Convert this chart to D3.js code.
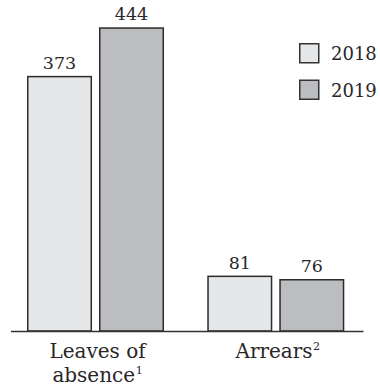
<!DOCTYPE html>
<html>
<head>
<meta charset="utf-8">
<script src="https://cdn.jsdelivr.net/npm/d3@7"></script>
<style>
  html, body { margin: 0; padding: 0; background: #fff; }
  svg { display: block; }
  text { font-family: "DejaVu Serif", serif; fill: #2a2627; }
</style>
</head>
<body>
<svg id="chart" width="380" height="389"></svg>
<script>
// Data
const categories = ["Leaves of absence", "Arrears"];
const categoryLines = [["Leaves of", "absence"], ["Arrears"]];
const footnotes = ["1", "2"];
const years = ["2018", "2019"];
const values2018 = [373, 81];
const values2019 = [444, 76];
const colors = ["#e6e7e8", "#bcbdc0"];

const svg = d3.select("#chart");
const baseY = 331;

const y = d3.scaleLinear().domain([0, 444]).range([baseY, 27.3]);
const x0 = d3.scaleBand().domain(categories).range([27, 344.3]).paddingInner(0.24).paddingOuter(0);
const x1 = d3.scaleBand().domain(years).range([0, x0.bandwidth()]).paddingInner(0.097).paddingOuter(0);
const color = d3.scaleOrdinal().domain(years).range(colors);

const rows = categories.map((c, i) => ({
  category: c,
  bars: [
    { year: years[0], value: values2018[i] },
    { year: years[1], value: values2019[i] }
  ]
}));

const groups = svg.selectAll("g.group")
  .data(rows)
  .join("g")
  .attr("class", "group")
  .attr("transform", d => `translate(${x0(d.category)},0)`);

const sw = 1.5;
groups.selectAll("rect")
  .data(d => d.bars)
  .join("rect")
  .attr("x", d => x1(d.year) + sw / 2)
  .attr("y", d => y(d.value) + sw / 2)
  .attr("width", x1.bandwidth() - sw)
  .attr("height", d => baseY - y(d.value) - sw / 2)
  .attr("fill", d => color(d.year))
  .attr("stroke", "#2b2b2b")
  .attr("stroke-width", sw);

// Value labels
groups.selectAll("text.value")
  .data(d => d.bars)
  .join("text")
  .attr("class", "value")
  .attr("x", d => x1(d.year) + x1.bandwidth() / 2)
  .attr("y", d => y(d.value) - 7)
  .attr("text-anchor", "middle")
  .attr("font-size", 17.5)
  .text(d => d.value);

// Baseline
svg.append("line")
  .attr("x1", 11).attr("x2", 363.5)
  .attr("y1", baseY + 0.5).attr("y2", baseY + 0.5)
  .attr("stroke", "#333")
  .attr("stroke-width", 1.5);

// Category labels with footnote markers
rows.forEach((d, i) => {
  const cx = x0(d.category) + x0.bandwidth() / 2 + 2;
  const lines = categoryLines[i];
  const t = svg.append("text")
    .attr("text-anchor", "middle")
    .attr("font-size", 20);
  lines.forEach((ln, j) => {
    t.append("tspan")
      .attr("x", cx)
      .attr("y", 358 + j * 23.5)
      .text(ln);
  });
  t.append("tspan")
    .attr("font-size", 11)
    .attr("dy", -8)
    .attr("dx", 0.5)
    .text(footnotes[i]);
});

// Legend
const legend = svg.append("g").attr("transform", "translate(299,43)");
years.forEach((yr, i) => {
  const g = legend.append("g").attr("transform", `translate(0,${i * 36.5})`);
  g.append("rect")
    .attr("x", 0.75).attr("y", 0.75)
    .attr("width", 19).attr("height", 19)
    .attr("fill", color(yr))
    .attr("stroke", "#333")
    .attr("stroke-width", 1.5);
  g.append("text")
    .attr("x", 32)
    .attr("y", 17)
    .attr("font-size", 18)
    .text(yr);
});
</script>
</body>
</html>
